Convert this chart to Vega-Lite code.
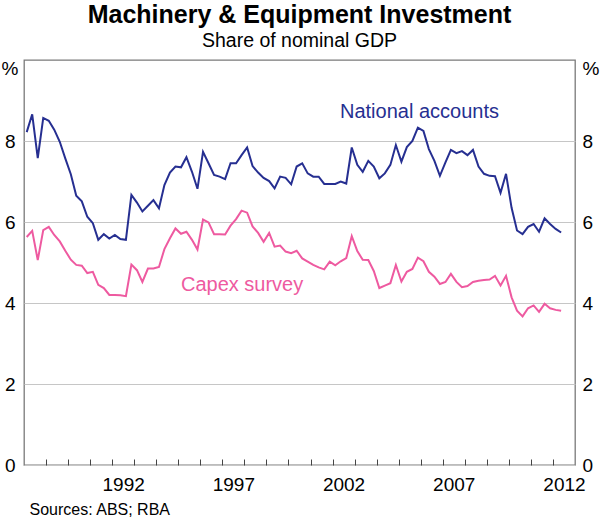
{
  "$schema": "https://vega.github.io/schema/vega-lite/v6.json",
  "width": 551,
  "height": 405,
  "autosize": {"type": "none"},
  "padding": {"left": 24, "top": 60, "right": 25, "bottom": 53},
  "background": "white",
  "title": {
    "text": "Machinery & Equipment Investment",
    "subtitle": "Share of nominal GDP",
    "anchor": "middle",
    "frame": "group",
    "fontSize": 25,
    "fontWeight": "bold",
    "color": "black",
    "subtitleFontSize": 19.5,
    "subtitleColor": "black",
    "subtitlePadding": 4,
    "offset": 9
  },
  "config": {
    "font": "Liberation Sans",
    "view": {"stroke": "#7a7a7a", "strokeWidth": 1.3},
    "axis": {"labelColor": "black", "titleColor": "black", "labelFont": "Liberation Sans", "titleFont": "Liberation Sans"}
  },
  "datasets": {
    "gdp_share": [
      {"quarter": "1988-02-15", "national_accounts": 8.22, "capex_survey": 5.63},
      {"quarter": "1988-05-16", "national_accounts": 8.66, "capex_survey": 5.78},
      {"quarter": "1988-08-16", "national_accounts": 7.58, "capex_survey": 5.06},
      {"quarter": "1988-11-15", "national_accounts": 8.57, "capex_survey": 5.80},
      {"quarter": "1989-02-15", "national_accounts": 8.50, "capex_survey": 5.88},
      {"quarter": "1989-05-16", "national_accounts": 8.28, "capex_survey": 5.68},
      {"quarter": "1989-08-16", "national_accounts": 7.98, "capex_survey": 5.52},
      {"quarter": "1989-11-15", "national_accounts": 7.57, "capex_survey": 5.29},
      {"quarter": "1990-02-15", "national_accounts": 7.18, "capex_survey": 5.07},
      {"quarter": "1990-05-16", "national_accounts": 6.65, "capex_survey": 4.94},
      {"quarter": "1990-08-16", "national_accounts": 6.51, "capex_survey": 4.92},
      {"quarter": "1990-11-15", "national_accounts": 6.13, "capex_survey": 4.74},
      {"quarter": "1991-02-15", "national_accounts": 5.97, "capex_survey": 4.77},
      {"quarter": "1991-05-16", "national_accounts": 5.56, "capex_survey": 4.45},
      {"quarter": "1991-08-16", "national_accounts": 5.70, "capex_survey": 4.37},
      {"quarter": "1991-11-15", "national_accounts": 5.59, "capex_survey": 4.20},
      {"quarter": "1992-02-15", "national_accounts": 5.68, "capex_survey": 4.20},
      {"quarter": "1992-05-16", "national_accounts": 5.58, "capex_survey": 4.19},
      {"quarter": "1992-08-16", "national_accounts": 5.56, "capex_survey": 4.17},
      {"quarter": "1992-11-15", "national_accounts": 6.67, "capex_survey": 4.95},
      {"quarter": "1993-02-15", "national_accounts": 6.48, "capex_survey": 4.81},
      {"quarter": "1993-05-16", "national_accounts": 6.26, "capex_survey": 4.52},
      {"quarter": "1993-08-16", "national_accounts": 6.40, "capex_survey": 4.85},
      {"quarter": "1993-11-15", "national_accounts": 6.54, "capex_survey": 4.85},
      {"quarter": "1994-02-15", "national_accounts": 6.34, "capex_survey": 4.89},
      {"quarter": "1994-05-16", "national_accounts": 6.91, "capex_survey": 5.33},
      {"quarter": "1994-08-16", "national_accounts": 7.22, "capex_survey": 5.60},
      {"quarter": "1994-11-15", "national_accounts": 7.37, "capex_survey": 5.84},
      {"quarter": "1995-02-15", "national_accounts": 7.35, "capex_survey": 5.71},
      {"quarter": "1995-05-16", "national_accounts": 7.60, "capex_survey": 5.76},
      {"quarter": "1995-08-16", "national_accounts": 7.24, "capex_survey": 5.56},
      {"quarter": "1995-11-15", "national_accounts": 6.82, "capex_survey": 5.32},
      {"quarter": "1996-02-15", "national_accounts": 7.73, "capex_survey": 6.06},
      {"quarter": "1996-05-16", "national_accounts": 7.45, "capex_survey": 5.99},
      {"quarter": "1996-08-16", "national_accounts": 7.16, "capex_survey": 5.70},
      {"quarter": "1996-11-15", "national_accounts": 7.12, "capex_survey": 5.70},
      {"quarter": "1997-02-15", "national_accounts": 7.06, "capex_survey": 5.69},
      {"quarter": "1997-05-16", "national_accounts": 7.45, "capex_survey": 5.91},
      {"quarter": "1997-08-16", "national_accounts": 7.45, "capex_survey": 6.07},
      {"quarter": "1997-11-15", "national_accounts": 7.65, "capex_survey": 6.28},
      {"quarter": "1998-02-15", "national_accounts": 7.84, "capex_survey": 6.23},
      {"quarter": "1998-05-16", "national_accounts": 7.38, "capex_survey": 5.89},
      {"quarter": "1998-08-16", "national_accounts": 7.22, "capex_survey": 5.73},
      {"quarter": "1998-11-15", "national_accounts": 7.09, "capex_survey": 5.51},
      {"quarter": "1999-02-15", "national_accounts": 7.01, "capex_survey": 5.73},
      {"quarter": "1999-05-16", "national_accounts": 6.83, "capex_survey": 5.39},
      {"quarter": "1999-08-16", "national_accounts": 7.12, "capex_survey": 5.42},
      {"quarter": "1999-11-15", "national_accounts": 7.09, "capex_survey": 5.27},
      {"quarter": "2000-02-15", "national_accounts": 6.93, "capex_survey": 5.23},
      {"quarter": "2000-05-16", "national_accounts": 7.37, "capex_survey": 5.29},
      {"quarter": "2000-08-16", "national_accounts": 7.45, "capex_survey": 5.10},
      {"quarter": "2000-11-15", "national_accounts": 7.20, "capex_survey": 5.02},
      {"quarter": "2001-02-15", "national_accounts": 7.12, "capex_survey": 4.94},
      {"quarter": "2001-05-16", "national_accounts": 7.12, "capex_survey": 4.88},
      {"quarter": "2001-08-16", "national_accounts": 6.94, "capex_survey": 4.83},
      {"quarter": "2001-11-15", "national_accounts": 6.94, "capex_survey": 5.02},
      {"quarter": "2002-02-15", "national_accounts": 6.94, "capex_survey": 4.93},
      {"quarter": "2002-05-16", "national_accounts": 7.00, "capex_survey": 5.03},
      {"quarter": "2002-08-16", "national_accounts": 6.95, "capex_survey": 5.11},
      {"quarter": "2002-11-15", "national_accounts": 7.84, "capex_survey": 5.65},
      {"quarter": "2003-02-15", "national_accounts": 7.41, "capex_survey": 5.28},
      {"quarter": "2003-05-16", "national_accounts": 7.24, "capex_survey": 5.07},
      {"quarter": "2003-08-16", "national_accounts": 7.51, "capex_survey": 5.06},
      {"quarter": "2003-11-15", "national_accounts": 7.37, "capex_survey": 4.79},
      {"quarter": "2004-02-15", "national_accounts": 7.08, "capex_survey": 4.37},
      {"quarter": "2004-05-16", "national_accounts": 7.20, "capex_survey": 4.43},
      {"quarter": "2004-08-16", "national_accounts": 7.41, "capex_survey": 4.49},
      {"quarter": "2004-11-15", "national_accounts": 7.90, "capex_survey": 4.94},
      {"quarter": "2005-02-15", "national_accounts": 7.49, "capex_survey": 4.53},
      {"quarter": "2005-05-16", "national_accounts": 7.85, "capex_survey": 4.77},
      {"quarter": "2005-08-16", "national_accounts": 8.00, "capex_survey": 4.84},
      {"quarter": "2005-11-15", "national_accounts": 8.33, "capex_survey": 5.12},
      {"quarter": "2006-02-15", "national_accounts": 8.25, "capex_survey": 5.03},
      {"quarter": "2006-05-16", "national_accounts": 7.80, "capex_survey": 4.77},
      {"quarter": "2006-08-16", "national_accounts": 7.51, "capex_survey": 4.65},
      {"quarter": "2006-11-15", "national_accounts": 7.14, "capex_survey": 4.47},
      {"quarter": "2007-02-15", "national_accounts": 7.47, "capex_survey": 4.52},
      {"quarter": "2007-05-16", "national_accounts": 7.78, "capex_survey": 4.72},
      {"quarter": "2007-08-16", "national_accounts": 7.70, "capex_survey": 4.52},
      {"quarter": "2007-11-15", "national_accounts": 7.75, "capex_survey": 4.39},
      {"quarter": "2008-02-15", "national_accounts": 7.65, "capex_survey": 4.42},
      {"quarter": "2008-05-16", "national_accounts": 7.78, "capex_survey": 4.52},
      {"quarter": "2008-08-16", "national_accounts": 7.37, "capex_survey": 4.55},
      {"quarter": "2008-11-15", "national_accounts": 7.19, "capex_survey": 4.57},
      {"quarter": "2009-02-15", "national_accounts": 7.14, "capex_survey": 4.58},
      {"quarter": "2009-05-16", "national_accounts": 7.13, "capex_survey": 4.67},
      {"quarter": "2009-08-16", "national_accounts": 6.72, "capex_survey": 4.43},
      {"quarter": "2009-11-15", "national_accounts": 7.19, "capex_survey": 4.67},
      {"quarter": "2010-02-15", "national_accounts": 6.35, "capex_survey": 4.14},
      {"quarter": "2010-05-16", "national_accounts": 5.79, "capex_survey": 3.81},
      {"quarter": "2010-08-16", "national_accounts": 5.70, "capex_survey": 3.67},
      {"quarter": "2010-11-15", "national_accounts": 5.88, "capex_survey": 3.87},
      {"quarter": "2011-02-15", "national_accounts": 5.95, "capex_survey": 3.94},
      {"quarter": "2011-05-16", "national_accounts": 5.76, "capex_survey": 3.78},
      {"quarter": "2011-08-16", "national_accounts": 6.09, "capex_survey": 3.98},
      {"quarter": "2011-11-15", "national_accounts": 5.95, "capex_survey": 3.87},
      {"quarter": "2012-02-15", "national_accounts": 5.83, "capex_survey": 3.83},
      {"quarter": "2012-05-16", "national_accounts": 5.74, "capex_survey": 3.81}
    ],
    "series_labels": [
      {"quarter": "2002-05-04", "value": 8.57, "label": "National accounts"},
      {"quarter": "1995-02-14", "value": 4.30, "label": "Capex survey"}
    ]
  },
  "layer": [
    {
      "data": {"name": "gdp_share"},
      "mark": {"type": "line", "color": "#262f91", "strokeWidth": 2},
      "encoding": {
        "x": {
          "field": "quarter",
          "type": "temporal",
          "scale": {
            "type": "utc",
            "domain": [
              {"year": 1988, "month": 1, "date": 1, "utc": true},
              {"year": 2013, "month": 1, "date": 1, "utc": true}
            ]
          },
          "axis": {
            "orient": "bottom",
            "values": [
              {"year": 1989, "utc": true}, {"year": 1990, "utc": true}, {"year": 1991, "utc": true},
              {"year": 1992, "utc": true}, {"year": 1993, "utc": true}, {"year": 1994, "utc": true},
              {"year": 1995, "utc": true}, {"year": 1996, "utc": true}, {"year": 1997, "utc": true},
              {"year": 1998, "utc": true}, {"year": 1999, "utc": true}, {"year": 2000, "utc": true},
              {"year": 2001, "utc": true}, {"year": 2002, "utc": true}, {"year": 2003, "utc": true},
              {"year": 2004, "utc": true}, {"year": 2005, "utc": true}, {"year": 2006, "utc": true},
              {"year": 2007, "utc": true}, {"year": 2008, "utc": true}, {"year": 2009, "utc": true},
              {"year": 2010, "utc": true}, {"year": 2011, "utc": true}, {"year": 2012, "utc": true}
            ],
            "labels": false,
            "ticks": true,
            "tickSize": -6,
            "tickColor": "#444444",
            "tickWidth": 1,
            "domain": false,
            "grid": false,
            "title": null
          }
        },
        "y": {
          "field": "national_accounts",
          "type": "quantitative",
          "scale": {"domain": [0, 10], "nice": false},
          "axis": {
            "orient": "left",
            "values": [0, 2, 4, 6, 8],
            "grid": true,
            "gridColor": "#c6c6c6",
            "gridWidth": 1,
            "domain": false,
            "ticks": false,
            "labelFontSize": 19,
            "labelPadding": 9,
            "title": "%",
            "titleAngle": 0,
            "titleFontSize": 19,
            "titleFontWeight": "normal",
            "titleAlign": "center",
            "titleBaseline": "alphabetic",
            "titleX": -14.5,
            "titleY": 14
          }
        }
      }
    },
    {
      "data": {"name": "gdp_share"},
      "mark": {"type": "line", "color": "#ee5aa0", "strokeWidth": 2},
      "encoding": {
        "x": {
          "field": "quarter",
          "type": "temporal",
          "axis": {
            "orient": "bottom",
            "values": [
              {"year": 1992, "month": 7, "date": 2, "utc": true},
              {"year": 1997, "month": 7, "date": 2, "utc": true},
              {"year": 2002, "month": 7, "date": 2, "utc": true},
              {"year": 2007, "month": 7, "date": 2, "utc": true},
              {"year": 2012, "month": 7, "date": 2, "utc": true}
            ],
            "labelExpr": "utcFormat(datum.value, '%Y')",
            "labelFontSize": 19,
            "labelPadding": 10,
            "ticks": false,
            "domain": false,
            "grid": false,
            "title": "Sources: ABS; RBA",
            "titleFontSize": 16,
            "titleFontWeight": "normal",
            "titleAnchor": "start",
            "titleAlign": "left",
            "titleBaseline": "alphabetic",
            "titleX": 5,
            "titleY": 49
          }
        },
        "y": {
          "field": "capex_survey",
          "type": "quantitative",
          "axis": {
            "orient": "right",
            "values": [0, 2, 4, 6, 8],
            "grid": false,
            "domain": false,
            "ticks": false,
            "labelFontSize": 19,
            "labelPadding": 7,
            "title": "%",
            "titleAngle": 0,
            "titleFontSize": 19,
            "titleFontWeight": "normal",
            "titleAlign": "center",
            "titleBaseline": "alphabetic",
            "titleX": 15.5,
            "titleY": 14
          }
        }
      }
    },
    {
      "data": {"name": "series_labels"},
      "mark": {"type": "text", "align": "left", "baseline": "alphabetic", "fontSize": 20},
      "encoding": {
        "x": {"field": "quarter", "type": "temporal", "axis": null},
        "y": {"field": "value", "type": "quantitative", "axis": null},
        "text": {"field": "label"},
        "color": {
          "field": "label",
          "type": "nominal",
          "scale": {"domain": ["National accounts", "Capex survey"], "range": ["#262f91", "#ee5aa0"]},
          "legend": null
        }
      }
    }
  ],
  "resolve": {"axis": {"x": "independent", "y": "independent"}}
}
